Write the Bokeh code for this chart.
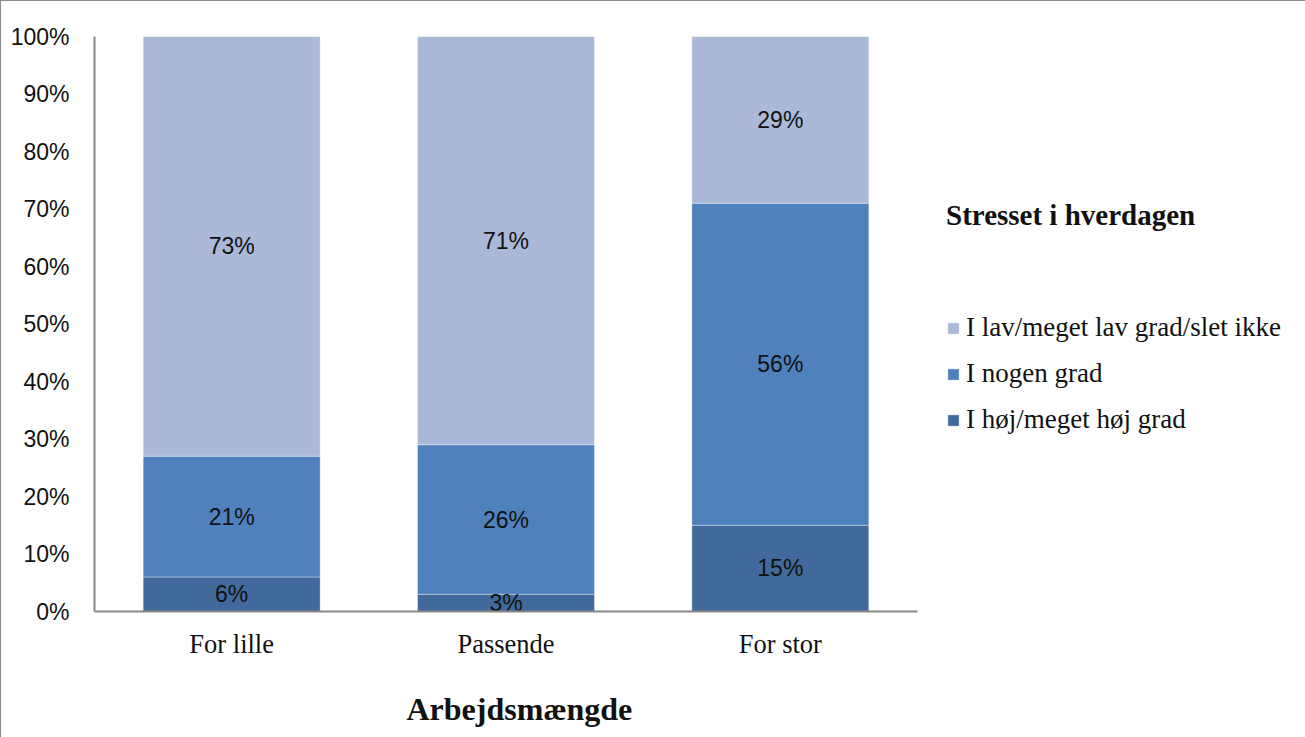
from bokeh.plotting import figure
from bokeh.models import ColumnDataSource, FactorRange, Range1d, Legend, LegendItem, NumeralTickFormatter, FixedTicker, Title
from bokeh.embed import file_html
from bokeh.resources import INLINE
from bokeh.core.properties import value

categories = ["For lille", "Passende", "For stor"]
series_names = ["I høj/meget høj grad", "I nogen grad", "I lav/meget lav grad/slet ikke"]
hoj = [0.06, 0.03, 0.15]
nogen = [0.21, 0.26, 0.56]
lav = [0.73, 0.71, 0.29]
y_ticks = [0.0, 0.1, 0.2, 0.3, 0.4, 0.5, 0.6, 0.7, 0.8, 0.9, 1.0]
colors = ["#41699B", "#4F81BD", "#AAB9D7"]
x_title = "Arbejdsmængde"

src = ColumnDataSource(dict(cat=categories, hoj=hoj, nogen=nogen, lav=lav))

p = figure(x_range=FactorRange(*categories, range_padding=0), y_range=Range1d(0, 1),
           frame_width=823, frame_height=575, min_border_left=93, min_border_top=35,
           min_border_right=378, min_border_bottom=10,
           output_backend="svg", toolbar_location=None,
           styles={"border": "1.5px solid #8a8a8a"})

keys = ["hoj", "nogen", "lav"]
rs = p.vbar_stack(keys, x="cat", width=0.645, source=src, color=colors,
                  line_color="#ffffff", line_alpha=0.35, line_width=1)

# data labels at segment centres
bottoms = [0.0, 0.0, 0.0]
lx, ly, lt = [], [], []
for vals in (hoj, nogen, lav):
    for i, c in enumerate(categories):
        lx.append(c)
        ly.append(bottoms[i] + vals[i] / 2)
        lt.append(f"{round(vals[i]*100)}%")
        bottoms[i] += vals[i]
lsrc = ColumnDataSource(dict(x=lx, y=ly, t=lt))
p.text(x="x", y="y", text="t", source=lsrc, text_align="center", text_baseline="middle",
       text_font=value("Liberation Sans"), text_font_size="23px", text_color="#111111")

legend = Legend(items=[LegendItem(label=series_names[2], renderers=[rs[2]]),
                       LegendItem(label=series_names[1], renderers=[rs[1]]),
                       LegendItem(label=series_names[0], renderers=[rs[0]])],
                location=(29, 176), title="Stresset i hverdagen")
legend.title_text_font = "Liberation Serif"
legend.title_text_font_style = "bold"
legend.title_text_font_size = "29px"
legend.title_text_color = "#111111"
legend.title_standoff = 80
legend.label_text_font = "Liberation Serif"
legend.label_text_font_size = "27px"
legend.label_text_color = "#111111"
legend.glyph_width = 14
legend.glyph_height = 14
legend.label_standoff = 6
legend.spacing = 15
legend.padding = 0
legend.margin = 0
legend.border_line_color = None
legend.background_fill_alpha = 0
p.add_layout(legend, "right")

p.xgrid.visible = False
p.ygrid.visible = False
p.outline_line_color = None

ya = p.yaxis[0]
ya.ticker = FixedTicker(ticks=y_ticks)
ya.formatter = NumeralTickFormatter(format="0%")
ya.major_tick_line_color = None
ya.minor_tick_line_color = None
ya.axis_line_color = "#878787"
ya.axis_line_width = 2
ya.major_label_text_font = "Liberation Sans"
ya.major_label_text_font_size = "23px"
ya.major_label_text_color = "#111111"
ya.major_label_standoff = 19

xa = p.xaxis[0]
xa.major_tick_line_color = None
xa.minor_tick_line_color = None
xa.axis_line_color = "#878787"
xa.axis_line_width = 2
xa.major_label_text_font = "Liberation Serif"
xa.major_label_text_font_size = "26.5px"
xa.major_label_text_color = "#111111"
xa.major_label_standoff = 11

xt = Title(text=x_title, align="left", offset=312, standoff=54,
           text_font="Liberation Serif", text_font_style="bold",
           text_font_size="32px", text_color="#111111")
p.add_layout(xt, "below")

open("out.html", "w").write(file_html(p, INLINE))
